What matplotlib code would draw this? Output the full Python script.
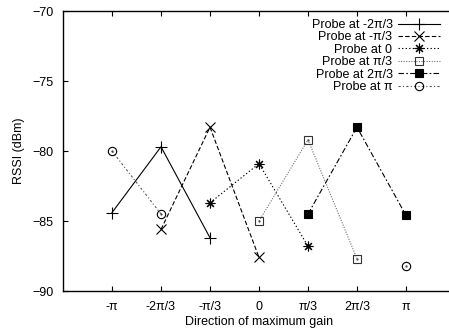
import numpy as np
import matplotlib
matplotlib.use("Agg")
import matplotlib.pyplot as plt

# ── Data ──────────────────────────────────────────────────────────────────────
directions = ["-π", "-2π/3", "-π/3", "0", "π/3", "2π/3", "π"]
nan = np.nan
probe_m2pi3 = [-84.4, -79.7, -86.2, nan, nan, nan, nan]
probe_mpi3 = [nan, -85.6, -78.3, -87.6, nan, nan, nan]
probe_0 = [nan, nan, -83.7, -80.9, -86.8, nan, nan]
probe_pi3 = [nan, nan, nan, -85.0, -79.2, -87.7, nan]
probe_2pi3 = [nan, nan, nan, nan, -84.5, -78.3, -84.6]
probe_pi = [-80.0, -84.5, nan, nan, nan, nan, -88.2]
labels = ["Probe at -2π/3", "Probe at -π/3", "Probe at 0",
          "Probe at π/3", "Probe at 2π/3", "Probe at π"]

# ── Style ─────────────────────────────────────────────────────────────────────
plt.rcParams["font.family"] = ["Liberation Sans", "DejaVu Sans"]
plt.rcParams["font.size"] = 9

W, H = 449, 332
fig = plt.figure(figsize=(W / 100, H / 100), dpi=100)
ax = fig.add_axes([63 / W, 41 / H, 392 / W, 280 / H])

x = np.arange(len(directions))
styles = [
    dict(color="black", ls="-", marker="+", ms=8, mew=0.8, mfc="none"),
    dict(color="black", ls=(0, (4, 2)), marker="x", ms=6.5, mew=0.8, mfc="none"),
    dict(color="black", ls=(0, (1.2, 2)), marker=(8, 2, 0), ms=7, mew=0.8, mfc="none"),
    dict(color="#707070", ls=(0, (1, 1.3)), marker="s", ms=5.5, mew=0.8,
         mfc="none", mec="#333333"),
    dict(color="black", ls=(0, (5, 2, 1.5, 2)), marker="s", ms=6, mew=0.8,
         mfc="black", mec="black"),
    dict(color="#555555", ls=(0, (2, 2, 1, 2)), marker="o", ms=6, mew=0.8,
         mfc="none", mec="black"),
]
series = [probe_m2pi3, probe_mpi3, probe_0, probe_pi3, probe_2pi3, probe_pi]

for vals, st, lab in zip(series, styles, labels):
    ax.plot(x, vals, lw=0.8, label=lab, **st)

# centre dots of open square / circle markers (gnuplot style)
for vals in (probe_pi3, probe_pi):
    ax.plot(x, vals, ls="none", marker=".", ms=1.2, color="#444444")

ax.set_xlim(-1, 7)
ax.set_ylim(-90, -70)
ax.set_xticks(x)
ax.set_xticklabels(directions)
ax.set_yticks(np.arange(-90, -69, 5))
ax.tick_params(direction="in", length=3.5, width=0.8, top=True, right=False,
               pad=7, labelsize=9)
for side in ("left", "bottom", "top"):
    ax.spines[side].set_linewidth(1.0)
ax.spines["right"].set_visible(False)

ax.set_xlabel("Direction of maximum gain", fontsize=9, labelpad=2)
ax.set_ylabel("RSSI (dBm)", fontsize=9, labelpad=5)

# markerfirst=False right-aligns the rows, so labels end next to the samples
ax.legend(loc="upper right", bbox_to_anchor=(440 / W, 1 - 19 / H),
          bbox_transform=fig.transFigure, frameon=False, markerfirst=False,
          handlelength=3.4, handletextpad=0.4, labelspacing=0.03,
          borderpad=0, borderaxespad=0, fontsize=9)

fig.savefig("out.png", dpi=100)
